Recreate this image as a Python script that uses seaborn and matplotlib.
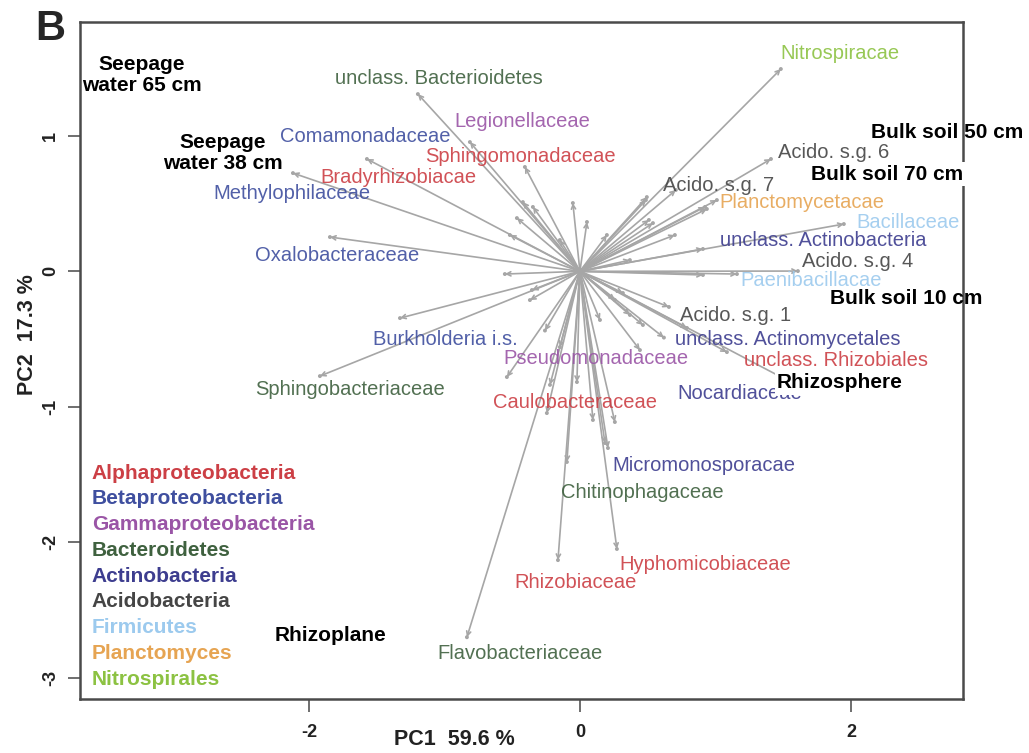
import matplotlib
matplotlib.use("Agg")
import matplotlib.pyplot as plt
import seaborn as sns
import pandas as pd

sns.set_theme(style="white")
plt.rcParams['font.family'] = ['Liberation Sans', 'DejaVu Sans']

# ---------------- data ----------------
# PCA loading arrow tips (PC1, PC2)
arrow_x = [-1.196, -0.812, -0.406, -1.572, -2.118, -1.845, -1.328, -1.919, -0.539, -0.221,
           -0.022, 1.675, 1.085, 0.620, 0.657, 1.159, 1.609, 0.908, 1.948, 1.011,
           0.708, 1.410, 1.483, 0.207, -0.096, -0.162, 0.273, -0.834,
           -0.052, 0.052, -0.421, -0.347, -0.465, -0.554, 0.494, 0.701, 0.199, 0.539,
           -0.517, 0.923, 0.096, 0.258, 0.185, 0.790, 0.465, 0.317, 0.908, -0.148,
           -0.244, 0.487, 0.937, 0.509, -0.258, -0.369, 0.369, 0.258, -0.148, 0.148,
           -0.354, 0.443, 0.369]
arrow_y = [1.308, 0.954, 0.770, 0.829, 0.725, 0.253, -0.345, -0.773, -0.780, -0.838,
           -0.817, -0.880, -0.596, -0.489, -0.263, -0.020, 0.002, 0.165, 0.349, 0.526,
           0.600, 0.829, 1.493, -1.304, -1.407, -2.131, -2.049, -2.700,
           0.504, 0.364, 0.511, 0.475, 0.393, -0.020, 0.548, 0.268, 0.268, 0.356,
           0.268, 0.475, -1.097, -1.112, -1.267, -0.418, -0.396, -0.160, -0.027, -0.559,
           -1.046, 0.526, 0.460, 0.379, -0.437, -0.212, 0.083, -0.212, 0.231, -0.359,
           -0.138, -0.581, -0.322]

# family labels
family_names = ["unclass. Bacterioidetes", "Legionellaceae", "Comamonadaceae", "Sphingomonadaceae",
                "Bradyrhizobiacae", "Methylophilaceae", "Oxalobacteraceae", "Burkholderia i.s.",
                "Pseudomonadaceae", "Sphingobacteriaceae", "Caulobacteraceae", "Nocardiaceae",
                "Acido. s.g. 1", "unclass. Actinomycetales", "unclass. Rhizobiales", "Paenibacillacae",
                "Acido. s.g. 4", "unclass. Actinobacteria", "Bacillaceae", "Planctomycetacae",
                "Acido. s.g. 7", "Acido. s.g. 6", "Nitrospiracae", "Micromonosporacae",
                "Chitinophagaceae", "Hyphomicobiaceae", "Rhizobiaceae", "Flavobacteriaceae"]
family_phylum = ["Bacteroidetes", "Gammaproteobacteria", "Betaproteobacteria", "Alphaproteobacteria",
                 "Alphaproteobacteria", "Betaproteobacteria", "Betaproteobacteria", "Betaproteobacteria",
                 "Gammaproteobacteria", "Bacteroidetes", "Alphaproteobacteria", "Actinobacteria",
                 "Acidobacteria", "Actinobacteria", "Alphaproteobacteria", "Firmicutes",
                 "Acidobacteria", "Actinobacteria", "Firmicutes", "Planctomyces",
                 "Acidobacteria", "Acidobacteria", "Nitrospirales", "Actinobacteria",
                 "Bacteroidetes", "Alphaproteobacteria", "Alphaproteobacteria", "Bacteroidetes"]
family_x = [-1.808, -0.923, -2.214, -1.144, -1.919, -2.708, -2.399, -1.528,
            -0.568, -2.399, -0.642, 0.723, 0.738, 0.701, 1.210, 1.188,
            1.638, 1.033, 2.037, 1.033, 0.613, 1.461, 1.483, 0.236,
            -0.140, 0.288, -0.487, -1.055]
family_y = [1.426, 1.109, 0.998, 0.851, 0.696, 0.578, 0.120, -0.506,
            -0.640, -0.869, -0.965, -0.898, -0.323, -0.500, -0.655, -0.064,
            0.076, 0.224, 0.364, 0.511, 0.630, 0.880, 1.604, -1.430,
            -1.629, -2.160, -2.293, -2.817]

# legend (phyla)
phyla = ["Alphaproteobacteria", "Betaproteobacteria", "Gammaproteobacteria", "Bacteroidetes",
         "Actinobacteria", "Acidobacteria", "Firmicutes", "Planctomyces", "Nitrospirales"]
phylum_colors = ["#cc3f45", "#3f4f9f", "#9a55a6", "#3f613f", "#3d3d8f", "#454545",
                 "#9ccaee", "#e6a452", "#8cc242"]

# sample labels
sample_names = ["Seepage\nwater 65 cm", "Seepage\nwater 38 cm", "Bulk soil 50 cm", "Bulk soil 70 cm",
                "Bulk soil 10 cm", "Rhizosphere", "Rhizoplane"]
sample_x = [-3.232, -2.635, 2.708, 2.266, 2.406, 1.919, -1.838]
sample_y = [1.448, 0.873, 1.028, 0.718, -0.197, -0.824, -2.691]
sample_boxed = [False, False, False, True, False, True, False]

x_ticks = [-2, 0, 2]
y_ticks = [-3, -2, -1, 0, 1]

# ---------------- plot ----------------
fig = plt.figure(figsize=(10.29, 7.53), dpi=100)
ax = fig.add_axes([0.0777, 0.0717, 0.8581, 0.8991])

arrows = pd.DataFrame({"PC1": arrow_x, "PC2": arrow_y})
arrow_col = "#a6a6a6"
for px, py in zip(arrows["PC1"], arrows["PC2"]):
    ax.annotate("", xy=(px, py), xytext=(0, 0),
                arrowprops=dict(arrowstyle="->,head_length=0.3,head_width=0.15",
                                color=arrow_col, lw=1.2, shrinkA=0, shrinkB=0,
                                mutation_scale=10))
sns.scatterplot(data=arrows, x="PC1", y="PC2", ax=ax, color=arrow_col, s=8,
                edgecolor="none", legend=False, zorder=3)

cmap = dict(zip(phyla, phylum_colors))
for name, ph, fx, fy in zip(family_names, family_phylum, family_x, family_y):
    ax.text(fx, fy, name, color=cmap[ph], fontsize=14.5, ha="left", va="center",
            alpha=0.9, zorder=4)

for i, (ph, col) in enumerate(zip(phyla, phylum_colors)):
    ax.text(0.0136, 0.3338 - i * 0.03804, ph, color=col, fontsize=15, fontweight="bold",
            ha="left", va="center", transform=ax.transAxes, zorder=5)

for name, sx, sy, boxed in zip(sample_names, sample_x, sample_y, sample_boxed):
    kw = {}
    if boxed:
        kw["bbox"] = dict(facecolor="white", edgecolor="none", pad=1.5)
    ax.text(sx, sy, name, color="black", fontsize=15, fontweight="bold",
            ha="center", va="center", linespacing=1.15, clip_on=False, zorder=6, **kw)

ax.set_xlim(-3.69, 2.827)
ax.set_ylim(-3.156, 1.840)
ax.set_xticks(x_ticks)
ax.set_yticks(y_ticks)
ax.set_xticklabels([str(v) for v in x_ticks], fontsize=13, fontweight="bold", color="#222222")
ax.set_yticklabels([str(v) for v in y_ticks], fontsize=13, fontweight="bold", color="#222222",
                   rotation=90, va="center")
ax.tick_params(axis="x", direction="out", length=9, width=1.2, color="#555555",
               bottom=True, pad=9)
ax.tick_params(axis="y", direction="out", length=9, width=1.2, color="#555555",
               left=True, pad=6)

ax.set_xlabel("PC1  59.6 %", fontsize=15.5, fontweight="bold", color="#222222")
ax.set_ylabel("PC2  17.3 %", fontsize=15.5, fontweight="bold", color="#222222")
ax.xaxis.set_label_coords(0.4236, -0.0445)
ax.yaxis.set_label_coords(-0.0470, 0.5377)

for sp in ax.spines.values():
    sp.set_color("#4a4a4a")
    sp.set_linewidth(1.8)
ax.grid(False)

fig.text(0.049, 0.961, "B", fontsize=30, fontweight="bold", ha="center", va="center")

fig.savefig("out.png", dpi=100)
